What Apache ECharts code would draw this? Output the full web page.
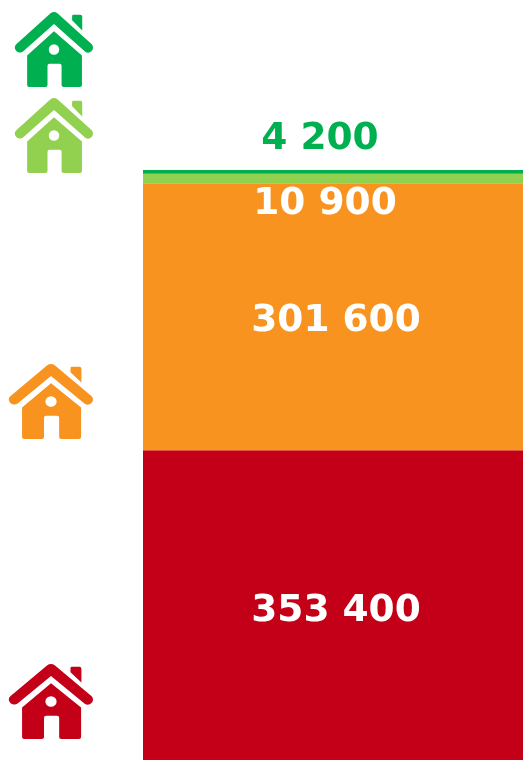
<!DOCTYPE html>
<html>
<head>
<meta charset="utf-8">
<style>
  html, body { margin: 0; padding: 0; background: #fff; overflow: hidden; }
  /* the red block runs a little past the bottom of the picture */
  #chart { width: 523px; height: 763px; }
</style>
</head>
<body>
<div id="chart"></div>
<script src="https://cdn.jsdelivr.net/npm/echarts@6/dist/echarts.min.js"></script>
<script>
// bottom to top, same order as the stack
const categories = ['total'];
const seriesNames = ['red', 'orange', 'lightGreen', 'green'];
const seriesValues = [353400, 301600, 10900, 4200];

const colors = ['#C40018', '#F7931E', '#92D050', '#00B050'];
const labelColors = ['#fff', '#fff', '#fff', '#00B050'];
const labelOffsets = [[3, 5], [3, 4], [-8, 26], [-13, -33]];

// center and width of each house, top of the picture first
const houses = [
  { color: '#00B050', x: 54, y: 49.5, width: 78 },
  { color: '#92D050', x: 54, y: 135.5, width: 78 },
  { color: '#F7931E', x: 51, y: 401.5, width: 84 },
  { color: '#C40018', x: 51, y: 701.5, width: 84 }
];
const housePath =
  // chimney
  'M58 2 L65 2 Q67 2 67 4 L67 18 L56.7 7.5 L56.7 3.5 Q56.7 2 58 2 Z ' +
  // roof
  'M34.5 0.8 Q38.3 -2.2 42.1 0.8 L76.4 31.5 A5 5 0 0 1 69.8 39 L38.3 11.3 L6.8 39 A5 5 0 0 1 0.2 31.5 Z ' +
  // body with door
  'M38.3 18.7 L66.7 43 L66.7 72.7 Q66.7 74.7 64.7 74.7 L48 74.7 Q46 74.7 46 72.7 L46 53.3 Q46 51.3 44 51.3 L33.7 51.3 Q31.7 51.3 31.7 53.3 L31.7 72.7 Q31.7 74.7 29.7 74.7 L13 74.7 Q11 74.7 11 72.7 L11 43 Z ' +
  // window
  'M38.3 31.7 A5.3 5.3 0 0 0 38.3 42.3 A5.3 5.3 0 0 0 38.3 31.7 Z';

function formatValue(value) {
  return String(value).replace(/\B(?=(\d{3})+$)/g, ' ');
}

const total = seriesValues.reduce((a, b) => a + b, 0);
const chart = echarts.init(document.getElementById('chart'));

chart.setOption({
  animation: false,
  grid: { left: 143, right: 0, top: 170, bottom: 0 },
  xAxis: { type: 'category', data: categories, show: false },
  yAxis: { type: 'value', min: 0, max: total, show: false },
  series: seriesNames.map((name, i) => ({
    name: name,
    type: 'bar',
    stack: 'all',
    barWidth: '100%',
    data: [seriesValues[i]],
    itemStyle: { color: colors[i] },
    label: {
      show: true,
      position: 'inside',
      offset: labelOffsets[i],
      color: labelColors[i],
      fontFamily: 'DejaVu Sans',
      fontWeight: 'bold',
      fontSize: 37.5,
      formatter: (p) => formatValue(p.value)
    },
    // the house icons hang off the first series
    markPoint: i > 0 ? undefined : {
      silent: true,
      label: { show: false },
      data: houses.map((h) => ({
        x: h.x,
        y: h.y,
        symbol: 'path://' + housePath,
        symbolSize: [h.width, 75],
        itemStyle: { color: h.color }
      }))
    }
  }))
});
</script>
</body>
</html>
